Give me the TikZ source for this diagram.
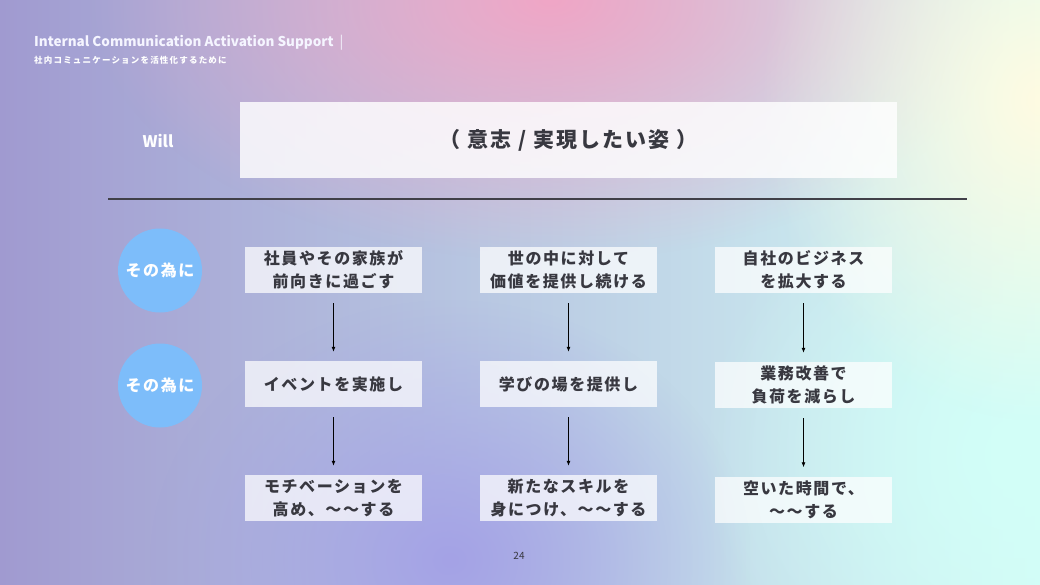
\documentclass[tikz,border=0pt]{standalone}
\usepackage{fontspec}
\setmainfont{Noto Sans CJK JP}
\newfontfamily\jpwide[LetterSpace=10]{Noto Sans CJK JP}
\newfontfamily\jpsmall[LetterSpace=14]{Noto Sans CJK JP}
\usetikzlibrary{arrows.meta, fadings}

\definecolor{bgleft}{HTML}{A09AD0}
\definecolor{bgmid}{HTML}{B2ADE4}
\definecolor{bgright}{HTML}{D4FBF6}
\definecolor{bgpink}{HTML}{F0A6C6}
\definecolor{bgcream}{HTML}{FFFBE2}
\definecolor{bgmint}{HTML}{D2FFF8}
\definecolor{bgviolet}{HTML}{A4A2E6}
\definecolor{ballblue}{HTML}{7DBDFA}
\definecolor{boxtext}{HTML}{383840}
\definecolor{rulegray}{HTML}{404048}

\tikzfading[name=softblob, inner color=transparent!0, outer color=transparent!100]

\begin{document}
\begin{tikzpicture}[x=1pt, y=-1pt,
  stepbox/.style={fill=white, fill opacity=0.72, text opacity=1, text=boxtext,
    minimum width=177pt, minimum height=46pt, inner sep=0pt, align=center,
    font=\jpwide\bfseries\fontsize{16}{23}\selectfont},
  whyball/.style={circle, fill=ballblue, minimum size=84pt, inner sep=0pt,
    text=white, font=\jpwide\bfseries\fontsize{16}{20}\selectfont},
  flow/.style={-{Latex[length=5pt,width=4pt]}, line width=0.8pt,
    shorten <=10pt, shorten >=9pt}]
  % background
  \useasboundingbox (0,0) rectangle (1040,585);
  \begin{scope}
    \clip (0,0) rectangle (1040,585);
    \shade[left color=bgleft, middle color=bgmid, right color=bgright] (0,0) rectangle (1040,585);
    \fill[bgviolet, path fading=softblob] (150,300) rectangle (750,820);
    \fill[bgmint, path fading=softblob] (700,150) rectangle (1340,760);
    \fill[bgpink, path fading=softblob] (90,-260) rectangle (1010,260);
    \fill[bgcream, path fading=softblob] (760,-220) rectangle (1320,420);
  \end{scope}
  % heading
  \node[anchor=base west, inner sep=0pt, text=white!96!blue,
    font=\bfseries\fontsize{13.5}{16}\selectfont] (title) at (34,47)
    {Internal Communication Activation Support\hspace{6pt}{\mdseries|}};
  \node[anchor=base west, inner sep=0pt, text=white,
    font=\jpsmall\bfseries\fontsize{8.5}{10}\selectfont] (subtitle) at (34,64)
    {社内コミュニケーションを活性化するために};
  % will
  \node[text=white, font=\bfseries\fontsize{16}{20}\selectfont] (will) at (158,141) {Will};
  \node[fill=white, fill opacity=0.82, text opacity=1, text=boxtext,
    minimum width=657pt, minimum height=76pt, inner sep=0pt,
    font=\jpwide\bfseries\fontsize{21}{25}\selectfont] (willbox) at (568.5,140)
    {（ 意志 / 実現したい姿 ）};
  \draw[line width=1.5pt, rulegray] (108,199) -- (967,199);
  % why
  \node[whyball] (why1) at (160,270.5) {その為に};
  \node[whyball] (why2) at (160,385.5) {その為に};
  % boxes
  \node[stepbox] (b11) at (333.5,270) {社員やその家族が\\前向きに過ごす};
  \node[stepbox] (b21) at (333.5,384) {イベントを実施し};
  \node[stepbox] (b31) at (333.5,498) {モチベーションを\\高め、～～する};
  \node[stepbox] (b12) at (568.5,270) {世の中に対して\\価値を提供し続ける};
  \node[stepbox] (b22) at (568.5,384) {学びの場を提供し};
  \node[stepbox] (b32) at (568.5,498) {新たなスキルを\\身につけ、～～する};
  \node[stepbox] (b13) at (803.5,270) {自社のビジネス\\を拡大する};
  \node[stepbox] (b23) at (803.5,385) {業務改善で\\負荷を減らし};
  \node[stepbox] (b33) at (803.5,499.5) {空いた時間で、\\～～する};
  \foreach \c in {1,2,3}
    \foreach \r/\s in {1/2,2/3}
      \draw[flow] (b\r\c) -- (b\s\c);
  % page
  \node[text=boxtext, font=\fontsize{10}{12}\selectfont] (page) at (519,556) {24};
\end{tikzpicture}
\end{document}
